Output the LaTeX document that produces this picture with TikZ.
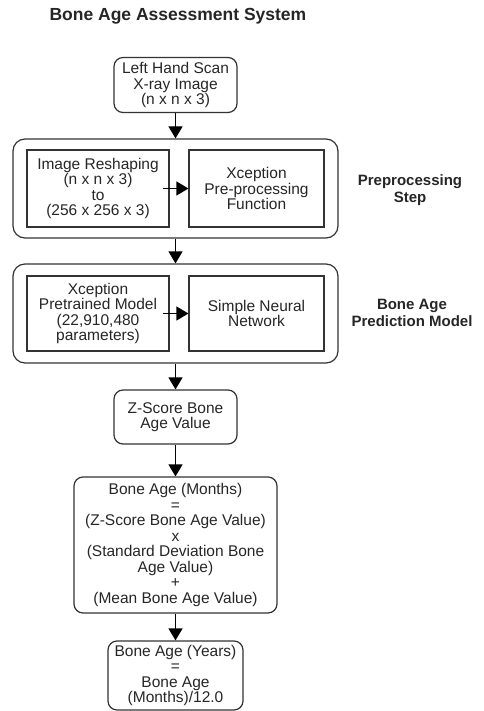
\documentclass[tikz,border=0pt]{standalone}
\usepackage{fontspec}
\setmainfont{Liberation Sans}
\usepackage{xcolor}
\usepackage{tikz}
\usetikzlibrary{shapes,arrows,positioning,calc,arrows.meta}

\definecolor{edge}{HTML}{333333}
\definecolor{ink}{HTML}{262626}

\begin{document}
\begin{tikzpicture}[x=1pt, y=-1pt,
        rbox/.style={draw=edge, line width=1.2pt, rounded corners=9pt, align=center, inner sep=0pt, text=ink, font=\fontsize{15.5}{15.5}\selectfont},
        sbox/.style={draw=edge, line width=1.2pt, align=center, inner sep=0pt, text=ink, font=\fontsize{15.5}{15.5}\selectfont},
        group/.style={draw=edge, line width=1.2pt, rounded corners=12pt, inner sep=0pt},
        steplabel/.style={align=center, text=ink, font=\bfseries\fontsize{15}{16.5}\selectfont},
        flow/.style={line width=1.2pt, -{Triangle[length=12pt, width=14pt]}}]
        \useasboundingbox (0,0) rectangle (483,711);

        % Title
        \node[anchor=west, text=ink, font=\bfseries\fontsize{17.5}{18}\selectfont] (title) at (46,16) {Bone Age Assessment System};

        % Input
        \node[rbox, minimum width=123pt, minimum height=55pt] (scan) at (175.5,85) {Left Hand Scan\\X-ray Image\\(n x n x 3)};

        % Preprocessing
        \node[group, minimum width=325pt, minimum height=99pt] (prep) at (175.5,188.5) {};
        \node[sbox, minimum width=142pt, minimum height=77pt] (reshape) at (98,188.5) {Image Reshaping\\(n x n x 3)\\to\\(256 x 256 x 3)};
        \node[sbox, minimum width=135pt, minimum height=77pt] (xprep) at (256.5,188.5) {Xception\\Pre-processing\\Function};
        \node[steplabel] (preplabel) at (410,190) {Preprocessing\\Step};

        % Prediction model
        \node[group, minimum width=325pt, minimum height=99pt] (pred) at (175.5,313.5) {};
        \node[sbox, minimum width=142pt, minimum height=75pt] (xmodel) at (98,313.5) {Xception\\Pretrained Model\\(22,910,480\\parameters)};
        \node[sbox, minimum width=135pt, minimum height=75pt] (snn) at (256.5,313.5) {Simple Neural\\Network};
        \node[steplabel] (predlabel) at (412,313) {Bone Age\\Prediction Model};

        % Outputs
        \node[rbox, minimum width=123pt, minimum height=54pt] (zscore) at (175.5,417) {Z-Score Bone\\Age Value};
        \node[rbox, minimum width=203pt, minimum height=136pt] (months) at (175.5,545) {Bone Age (Months)\\=\\(Z-Score Bone Age Value)\\x\\(Standard Deviation Bone\\Age Value)\\+\\(Mean Bone Age Value)};
        \node[rbox, minimum width=135pt, minimum height=69pt] (years) at (175.5,675.5) {Bone Age (Years)\\=\\Bone Age\\(Months)/12.0};

        % Arrows
        \draw[flow] (scan) -- (prep);
        \draw[flow] ([xshift=-7pt]reshape.east) -- (xprep.west);
        \draw[flow] (prep) -- (pred);
        \draw[flow] ([xshift=-7pt]xmodel.east) -- (snn.west);
        \draw[flow] (pred) -- (zscore);
        \draw[flow] (zscore) -- (months);
        \draw[flow] (months) -- (years);
    \end{tikzpicture}
\end{document}
